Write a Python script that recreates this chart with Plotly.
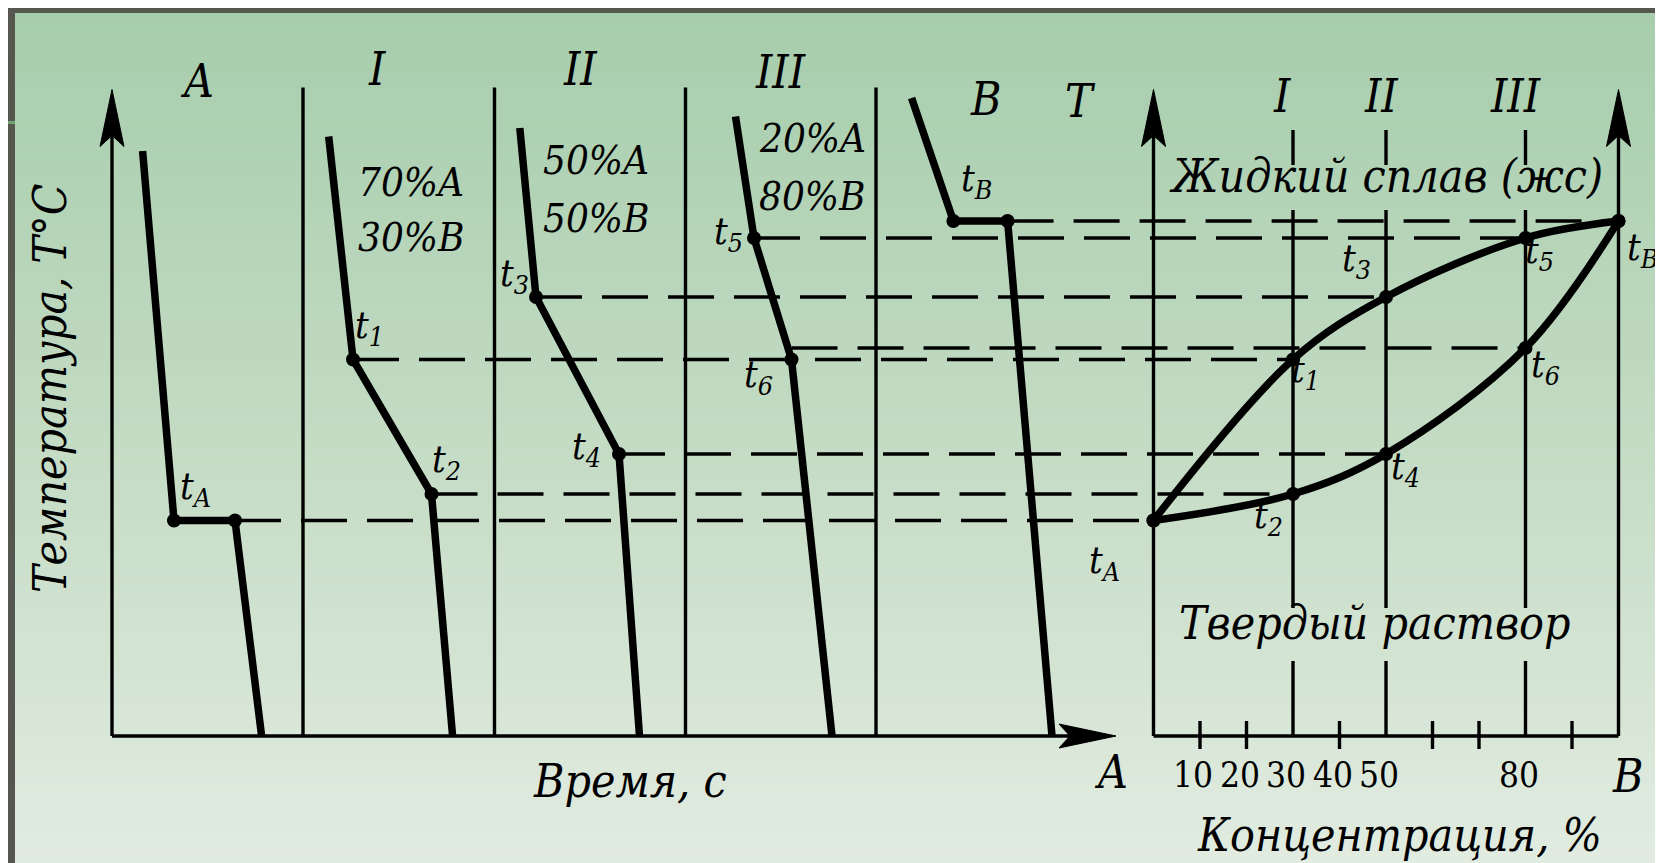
import plotly.graph_objects as go

W, H = 1663, 863
FONT = "DejaVu Serif Condensed, DejaVu Serif"

# ---------------- data (schematic units) ----------------
# temperature levels, °C (schematic)
T_A, T_1, T_2, T_3, T_4, T_5, T_6, T_B = 431, 753, 484, 878, 564, 996, 776, 1030

# cooling curves (time, s ; temperature, °C)
curveA_time = [3.06, 6.2, 12.3, 14.96]
curveA_temp = [1170, T_A, T_A, 0]
curve1_time = [21.67, 24.1, 31.95, 34.06]
curve1_temp = [1199, T_1, T_2, 0]
curve2_time = [40.78, 42.4, 50.7, 52.75]
curve2_temp = [1216, T_3, T_4, 0]
curve3_time = [62.35, 64.2, 67.95, 72.0]
curve3_temp = [1239, T_5, 753, 0]
curveB_time = [79.96, 84.14, 89.56, 94.0]
curveB_temp = [1276, T_B, T_B, 0]

# panel separators on the time axis
separator_times = [19.1, 38.25, 57.35, 76.4]
panel_labels = ["A", "I", "II", "III", "B"]
comp_labels = [("70%A", "30%B"), ("50%A", "50%B"), ("20%A", "80%B")]

# phase diagram (concentration %B ; temperature)
conc = [0, 30, 50, 80, 100]
liquidus = [T_A, T_1, T_3, T_5, T_B]
solidus = [T_A, T_2, T_4, T_6, T_B]
alloy_conc = [30, 50, 80]
alloy_names = ["I", "II", "III"]
tick_vals = [10, 20, 40, 60, 70, 90]
label_vals = [10, 20, 30, 40, 50, 80]
label_text = ["10", "20", "30", "40", "50", "80"]

# horizontal projection lines: (start time, level, end concentration)
projections = [
    (curveA_time[2], T_A, 0),
    (curve1_time[1], T_1, 30),
    (curve1_time[2], T_2, 30),
    (curve2_time[1], T_3, 50),
    (curve2_time[2], T_4, 50),
    (curve3_time[1], T_5, 80),
    (curve3_time[2], T_6, 80),
    (curveB_time[2], T_B, 100),
]

# ---------------- axes ----------------
X_TIME = [-10.4, 155.9]
X_CONC = [-246.344, 111.29]
Y_TEMP = [-270, 1456]
T_TOP = 1293        # arrow tips of the temperature axes
T_SEP_TOP = 1297    # top of the panel separators
TIME_END = 100.4    # arrow tip of the time axis
LINE_TOP = 1212     # top of alloy lines in the phase diagram

px_per_t = W / (X_TIME[1] - X_TIME[0])
px_per_c = W / (X_CONC[1] - X_CONC[0])
px_per_T = H / (Y_TEMP[1] - Y_TEMP[0])


def time_to_conc(t):
    f = (t - X_TIME[0]) / (X_TIME[1] - X_TIME[0])
    return X_CONC[0] + f * (X_CONC[1] - X_CONC[0])


fig = go.Figure()

# background gradient
fig.add_trace(go.Heatmap(
    x=[X_TIME[0], X_TIME[1]], y=[Y_TEMP[0], (Y_TEMP[0] + Y_TEMP[1]) / 2, Y_TEMP[1]],
    z=[[0, 0], [0.5, 0.5], [1, 1]], zsmooth="best", showscale=False, hoverinfo="skip",
    colorscale=[[0, "#e2ece1"], [0.5, "#c4dbc4"], [1, "#a6cdac"]]))

BLK = "black"
THIN = 3.4
THICK = 7.5
DASH = "46px,20px"


def seg(xs, ys, axis="x", width=THIN, dash=None):
    fig.add_trace(go.Scatter(x=xs, y=ys, xaxis=axis, yaxis="y", mode="lines",
                             line=dict(color=BLK, width=width, dash=dash),
                             hoverinfo="skip", showlegend=False))


def arrow_up(x, axis, halfw_px):
    unit = px_per_t if axis == "x" else px_per_c
    hw = halfw_px / unit
    L = 57 / px_per_T
    notch = 46 / px_per_T
    fig.add_trace(go.Scatter(
        x=[x, x + hw, x, x - hw, x], y=[T_TOP, T_TOP - L, T_TOP - notch, T_TOP - L, T_TOP],
        xaxis=axis, yaxis="y", mode="lines", fill="toself", fillcolor=BLK,
        line=dict(color=BLK, width=1), hoverinfo="skip", showlegend=False))


# ---- left panel: axes ----
seg([0, 0], [0, T_TOP - 20 / px_per_T])
seg([0, TIME_END - 20 / px_per_t], [0, 0])
arrow_up(0, "x", 12)
L = 57 / px_per_t
hw = 12 / px_per_T
fig.add_trace(go.Scatter(
    x=[TIME_END, TIME_END - L, TIME_END - 46 / px_per_t, TIME_END - L, TIME_END],
    y=[0, hw, 0, -hw, 0], mode="lines", fill="toself", fillcolor=BLK,
    line=dict(color=BLK, width=1), hoverinfo="skip", showlegend=False))
for st in separator_times:
    seg([st, st], [0, T_SEP_TOP])

# ---- projection dashed lines ----
for t0, lvl, c1 in projections:
    seg([time_to_conc(t0), c1], [lvl, lvl], axis="x2", width=THIN, dash=DASH)

# ---- right panel: axes ----
seg([0, 0], [0, T_TOP - 20 / px_per_T], axis="x2")
seg([100, 100], [0, T_TOP - 20 / px_per_T], axis="x2")
seg([0, 100], [0, 0], axis="x2")
arrow_up(0, "x2", 12)
arrow_up(100, "x2", 12)
tx, ty = [], []
for v in tick_vals:
    tx += [v, v, None]
    ty += [30, -26, None]
fig.add_trace(go.Scatter(x=tx, y=ty, xaxis="x2", mode="lines",
                         line=dict(color=BLK, width=THIN), hoverinfo="skip", showlegend=False))
# alloy lines (broken where the region names are written)
for c in alloy_conc:
    for lo, hi in [(0, 150), (256, 1052), (1142, LINE_TOP)]:
        seg([c, c], [lo, hi], axis="x2")

# ---- cooling curves ----
for xs, ys in [(curveA_time, curveA_temp), (curve1_time, curve1_temp), (curve2_time, curve2_temp),
               (curve3_time, curve3_temp), (curveB_time, curveB_temp)]:
    fig.add_trace(go.Scatter(x=xs, y=ys, mode="lines", line=dict(color=BLK, width=THICK),
                             hoverinfo="skip", showlegend=False))
    fig.add_trace(go.Scatter(x=xs[1:3], y=ys[1:3], mode="markers",
                             marker=dict(color=BLK, size=14), hoverinfo="skip", showlegend=False))

# ---- phase diagram ----
for ys in (liquidus, solidus):
    fig.add_trace(go.Scatter(x=conc, y=ys, xaxis="x2", mode="lines+markers",
                             line=dict(color=BLK, width=THICK, shape="spline", smoothing=1.0),
                             marker=dict(color=BLK, size=14), hoverinfo="skip", showlegend=False))

# ---------------- text ----------------
ann = []


def txt(s, x, y, size, xref="x", italic=True, angle=0):
    if italic:
        s = "<i>" + s + "</i>"
    xs, ys = (-8, 6) if angle else (-7, 10)
    ann.append(dict(text=s, x=x, y=y, xref=xref, yref="y", showarrow=False,
                    xanchor="center", yanchor="middle", textangle=angle,
                    xshift=xs, yshift=ys,
                    font=dict(family=FONT, size=size, color=BLK)))


BIG = 46
for name, (x, y) in zip(panel_labels, [(9.2, 1290), (27.25, 1314), (47.5, 1314), (67.55, 1308), (88.0, 1254)]):
    txt(name, x, y, BIG)
txt("T", 97.5, 1250, BIG)
for (a, b), x, (ya, yb) in zip(comp_labels, [30.6, 49.1, 70.7], [(1088, 978), (1133, 1016), (1177, 1060)]):
    txt(a, x, ya, 40)
    txt(b, x, yb, 40)

TS = 38
for s, x, y in [("A", 9.0, 476), ("1", 26.4, 798), ("2", 34.15, 529), ("3", 40.9, 901),
                ("4", 48.1, 556), ("5", 62.36, 985), ("6", 65.3, 699), ("B", 87.18, 1091)]:
    txt("t<sub>%s</sub>" % s, x, y, TS)
for s, x, y in [("3", 45.2, 932), ("5", 84.6, 947), ("B", 106.7, 953), ("1", 34.2, 710),
                ("6", 85.7, 720), ("4", 55.8, 516), ("2", 26.2, 417), ("A", -9.1, 328)]:
    txt("t<sub>%s</sub>" % s, x, y, TS, xref="x2")

for name, x in zip(alloy_names, [29.2, 50.6, 79.5]):
    txt(name, x, 1260, BIG, xref="x2")
txt("Жидкий сплав (жс)", 51.5, 1100, BIG, xref="x2")
txt("Твердый раствор", 49.0, 206, BIG, xref="x2")
txt("A", -7.7, -92, BIG, xref="x2")
txt("B", 103.5, -100, BIG, xref="x2")
txt("Концентрация, %", 54.3, -217, BIG, xref="x2")
for v, s in zip(label_vals, label_text):
    txt(s, v, -98, 35, xref="x2", italic=False)
txt("Время, с", 52.5, -109, BIG)
txt("Температура, T°C", -5.4, 682, BIG, angle=-90)

# ---------------- frame ----------------
DARK = "#55564e"
shapes = [
    dict(type="rect", xref="paper", yref="paper", x0=0, x1=7 / W, y0=0, y1=1, fillcolor=DARK, line_width=0, layer="above"),
    dict(type="rect", xref="paper", yref="paper", x0=0, x1=1, y0=1 - 5 / H, y1=1, fillcolor=DARK, line_width=0, layer="above"),
    dict(type="rect", xref="paper", yref="paper", x0=1656 / W, x1=1, y0=0, y1=1, fillcolor=DARK, line_width=0, layer="above"),
    dict(type="rect", xref="paper", yref="paper", x0=0, x1=7 / W, y0=1 - 116 / H, y1=1 - 113 / H, fillcolor="#6fa274", line_width=0, layer="above"),
    dict(type="rect", xref="paper", yref="paper", x0=1656 / W, x1=1, y0=1 - 116 / H, y1=1 - 113 / H, fillcolor="#6fa274", line_width=0, layer="above"),
]

fig.update_layout(
    width=W, height=H, margin=dict(l=0, r=0, t=0, b=0),
    paper_bgcolor="#c5dcc5", plot_bgcolor="rgba(0,0,0,0)",
    showlegend=False, hovermode=False,
    font=dict(family=FONT),
    xaxis=dict(range=X_TIME, visible=False, domain=[0, 1], fixedrange=True),
    xaxis2=dict(range=X_CONC, visible=False, overlaying="x", anchor="y", fixedrange=True),
    yaxis=dict(range=Y_TEMP, visible=False, domain=[0, 1], fixedrange=True),
    annotations=ann, shapes=shapes,
)

fig.write_html("out.html")
